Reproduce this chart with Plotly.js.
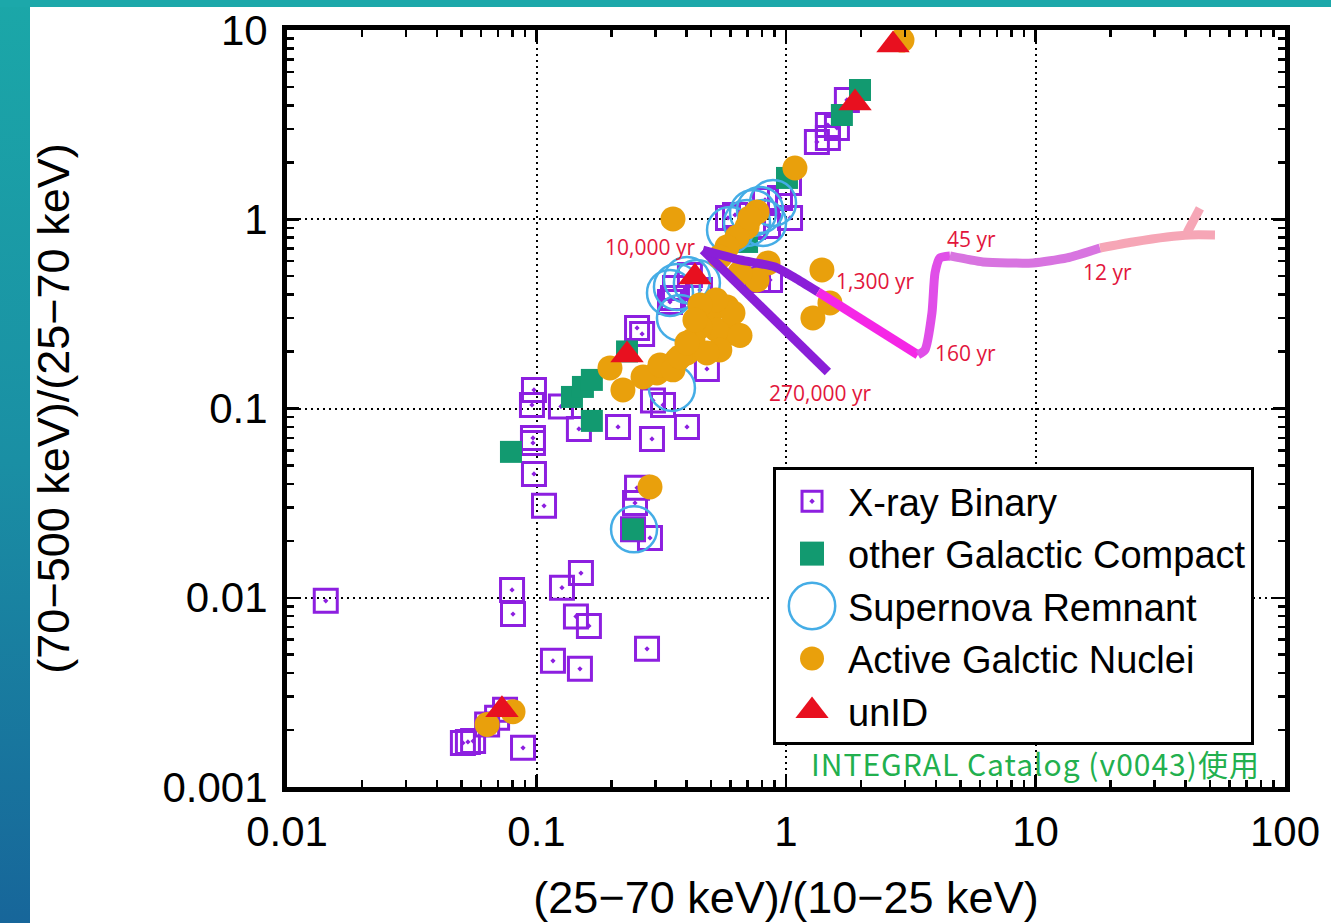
<!DOCTYPE html>
<html><head><meta charset="utf-8">
<script src="https://cdn.plot.ly/plotly-3.0.1.min.js"></script>
<style>
html,body{margin:0;padding:0;background:#fff;}
#wrap{position:relative;width:1331px;height:923px;overflow:hidden;background:#fff;}
#stripL{position:absolute;left:0;top:0;width:30px;height:923px;background:linear-gradient(180deg,#1ba7a8 0%,#1a8fa4 50%,#17669a 100%);}
#stripT{position:absolute;left:0;top:0;width:1331px;height:7px;background:#1ca8aa;}
#chart{position:absolute;left:0;top:0;width:1331px;height:923px;}
</style></head><body>
<div id="wrap"><div id="stripL"></div><div id="stripT"></div><div id="chart"></div></div>
<script>
// ---------- data ----------
const xTickVals = [0.01, 0.1, 1, 10, 100];
const xTickText = ['0.01', '0.1', '1', '10', '100'];
const yTickVals = [0.001, 0.01, 0.1, 1, 10];
const yTickText = ['0.001', '0.01', '0.1', '1', '10'];

const seriesNames = ['X-ray Binary', 'other Galactic Compact', 'Supernova Remnant', 'Active Galctic Nuclei', 'unID'];

const xrbX = [0.0143, 0.0507, 0.0531, 0.0557, 0.0634, 0.0695, 0.0748, 0.0883, 0.0798, 0.0805, 0.1265, 0.1507, 0.1439, 0.1622, 0.1164, 0.1493, 0.2773, 0.0977, 0.0959, 0.1253, 0.1479, 0.0968, 0.0968, 0.0977, 0.1072, 0.2122, 0.2903, 0.401, 0.293, 0.3214, 0.2529, 0.2482, 0.285, 0.2437, 0.2529, 0.265, 0.3524, 0.482, 0.3428, 0.359, 0.412, 0.7724, 0.5855, 0.6246, 0.847, 1.038, 0.824, 0.946, 1.028, 1.33, 1.472, 1.6, 1.472, 1.754, 0.7376, 0.452, 0.863];
const xrbY = [0.00963, 0.00171, 0.00173, 0.00175, 0.00214, 0.00232, 0.00256, 0.00161, 0.011, 0.0082, 0.0113, 0.0135, 0.00797, 0.0071, 0.00464, 0.00421, 0.00537, 0.1254, 0.1045, 0.1026, 0.078, 0.0699, 0.0658, 0.0451, 0.0306, 0.0799, 0.0691, 0.0799, 0.1103, 0.1045, 0.0381, 0.0317, 0.0207, 0.023, 0.2666, 0.2477, 0.384, 0.1619, 0.3657, 0.4335, 0.508, 0.4778, 1.016, 1.054, 0.922, 1.016, 1.265, 1.296, 1.555, 2.561, 2.689, 3.036, 3.148, 4.27, 0.911, 0.423, 0.4778];

const gcX = [0.079, 0.1387, 0.1535, 0.1667, 0.1667, 0.2306, 0.2437, 0.698, 1.009, 1.675, 1.98];
const gcY = [0.059, 0.1151, 0.13, 0.1416, 0.086, 0.2002, 0.023, 0.7586, 1.653, 3.556, 4.82];

const snrX = [0.246, 0.349, 0.3428, 0.401, 0.3656, 0.4395, 0.3758, 0.698, 0.7868, 0.887, 0.5966, 0.7376, 0.809];
const snrY = [0.023, 0.1284, 0.408, 0.4778, 0.4388, 0.4607, 0.301, 0.956, 1.12, 1.219, 0.878, 1.08, 0.956];

const agnX = [2.917, 1.086, 0.3524, 1.393, 1.282, 1.5, 0.847, 0.7653, 0.654, 0.7653, 0.698, 0.6362, 0.58, 0.543, 0.58, 0.4955, 0.613, 0.528, 0.4519, 0.4236, 0.401, 0.3656, 0.3334, 0.304, 0.2673, 0.543, 0.482, 0.613, 0.197, 0.222, 0.3126, 0.3524, 0.3758, 0.401, 0.285, 0.0634, 0.0805, 0.717, 0.524, 0.452, 0.4315, 0.654];
const agnY = [8.85, 1.866, 1.004, 0.54, 0.301, 0.3613, 0.588, 0.4778, 0.5202, 1.093, 0.911, 0.806, 0.714, 0.632, 0.344, 0.3199, 0.2508, 0.2602, 0.27, 0.2304, 0.1967, 0.1806, 0.1659, 0.1542, 0.1468, 0.204, 0.1967, 0.3199, 0.1639, 0.1254, 0.17, 0.16, 0.1874, 0.222, 0.0385, 0.00214, 0.0025, 1.016, 0.3748, 0.3527, 0.2938, 0.243];

const unidX = [2.685, 1.891, 0.4315, 0.2306, 0.0727];
const unidY = [8.33, 4.115, 0.4956, 0.192, 0.00256];

// evolution tracks (age segments)
const trackOldX = [0.4645, 1.472];            // 10,000 yr -> 270,000 yr
const trackOldY = [0.688, 0.156];
const trackMidX = [0.4645, 0.654, 0.904, 1.086, 1.343];   // 10,000 yr -> 1,300 yr
const trackMidY = [0.688, 0.6095, 0.56, 0.49, 0.413];
const track1300X = [1.343, 3.38];             // 1,300 yr -> 160 yr
const track1300Y = [0.413, 0.192];
const track160X = [3.38, 3.606, 3.846, 3.956, 4.14, 4.54]; // 160 yr -> 45 yr
const track160Y = [0.192, 0.204, 0.3199, 0.5202, 0.6246, 0.640];
const track45X = [4.54, 6.16, 9.77, 13.37, 18.14];         // 45 yr -> 12 yr
const track45Y = [0.640, 0.595, 0.588, 0.6246, 0.705];
const track12X = [18.14, 24.6, 33.65, 41.6, 52.4];         // 12 yr -> start
const track12Y = [0.705, 0.7586, 0.806, 0.826, 0.826];
const hookX = [40.5, 45.6];
const hookY = [0.85, 1.14];

const ageLabels = ['10,000 yr', '1,300 yr', '270,000 yr', '160 yr', '45 yr', '12 yr'];
const ageX = [0.285, 2.275, 1.368, 5.265, 5.56, 19.35];
const ageY = [0.714, 0.472, 0.1209, 0.1967, 0.787, 0.5266];

// ---------- chart ----------
const FONT = 'Liberation Sans, Arial, Helvetica, sans-serif';
function minorTicks(d0, d1) { const v = []; for (let d = d0; d < d1; d++) for (let k = 2; k < 10; k++) v.push(k * Math.pow(10, d)); return v; }

function lineTrace(x, y, color, shape) {
  return {x: x, y: y, type: 'scatter', mode: 'lines', showlegend: false, hoverinfo: 'skip',
    line: {color: color, width: 9, shape: shape || 'linear', smoothing: 0.6}};
}

const traces = [
  {x: xrbX, y: xrbY, name: seriesNames[0], legendgroup: 'a', type: 'scatter', mode: 'markers',
   marker: {symbol: 'square-open-dot', size: 23, color: '#8d1fe0', line: {width: 3, color: '#8d1fe0'}}},
  {x: gcX, y: gcY, name: seriesNames[1], legendgroup: 'b', type: 'scatter', mode: 'markers',
   marker: {symbol: 'square', size: 22, color: '#129a70'}},
  {x: snrX, y: snrY, name: seriesNames[2], legendgroup: 'c', type: 'scatter', mode: 'markers',
   marker: {symbol: 'circle-open', size: 46, color: '#45ade6', line: {width: 2.5, color: '#45ade6'}}},
  {x: agnX, y: agnY, name: seriesNames[3], legendgroup: 'd', type: 'scatter', mode: 'markers',
   marker: {symbol: 'circle', size: 25, color: '#e9a00c'}},
  lineTrace(trackOldX, trackOldY, '#8a1fd8'),
  lineTrace(trackMidX, trackMidY, '#8a1fd8', 'spline'),
  lineTrace(track1300X, track1300Y, '#f526e6'),
  lineTrace(track160X, track160Y, '#e04ee8', 'spline'),
  lineTrace(track45X, track45Y, '#d874e0', 'spline'),
  lineTrace(track12X, track12Y, '#f6a6b6', 'spline'),
  lineTrace(hookX, hookY, '#f6a6b6'),
  {x: unidX, y: unidY, name: seriesNames[4], legendgroup: 'e', type: 'scatter', mode: 'markers',
   marker: {symbol: 'triangle-up', size: 29, color: '#e8101f'}}
];

const annotations = ageLabels.map((t, i) => ({
  x: Math.log10(ageX[i]), y: Math.log10(ageY[i]), xref: 'x', yref: 'y', text: t, showarrow: false,
  xanchor: 'center', yanchor: 'middle', font: {family: 'Open Sans, Noto Sans, sans-serif', size: 21, color: '#e2163c'}
}));
annotations.push({
  x: 0.7495, y: 0.0317, xref: 'paper', yref: 'paper',
  text: '<span style="letter-spacing:1px">INTEGRAL Catalog (v0043)使用</span>', showarrow: false,
  xanchor: 'center', yanchor: 'middle', font: {family: 'Noto Sans CJK JP, sans-serif', size: 30, color: '#22b04e'}
});

function axis(range, vals, text, minor, title, standoff, labelOff) {
  return {
    type: 'log', range: range, tickmode: 'array', tickvals: vals, ticktext: text,
    ticks: 'inside', ticklen: 12, tickwidth: 2.5, tickcolor: '#000',
    showline: true, linewidth: 5, linecolor: '#000', mirror: 'ticks',
    showgrid: true, gridcolor: '#000', gridwidth: 2, griddash: '2px,4px', zeroline: false,
    tickfont: {family: FONT, size: 42, color: '#000'}, ticklabelstandoff: labelOff,
    minor: {tickmode: 'array', tickvals: minor, ticks: 'inside', ticklen: 7, tickwidth: 2.5, tickcolor: '#000', showgrid: false},
    title: {text: title, font: {family: FONT, size: 45, color: '#000'}, standoff: standoff},
    automargin: false, fixedrange: true
  };
}

const layout = {
  width: 1331, height: 923,
  margin: {l: 287, r: 46, t: 30, b: 136, pad: 0},
  paper_bgcolor: 'rgba(0,0,0,0)', plot_bgcolor: '#fff',
  xaxis: axis([-2, 2], xTickVals, xTickText, minorTicks(-2, 2), '(25−70 keV)/(10−25 keV)', 30, 4),
  yaxis: axis([-3, 1], yTickVals, yTickText, minorTicks(-3, 1), '(70−500 keV)/(25−70 keV)', 80, 6),
  showlegend: true,
  legend: {x: 0.487, y: 0.4227, xanchor: 'left', yanchor: 'top', bgcolor: '#fff', bordercolor: '#000', borderwidth: 3,
    font: {family: FONT, size: 38, color: '#000'}, traceorder: 'grouped', tracegroupgap: 0, itemwidth: 62},
  annotations: annotations
};

Plotly.newPlot('chart', traces, layout, {staticPlot: true, displayModeBar: false}).then(gd => {
  const scales = {'X-ray Binary': 1.25, 'other Galactic Compact': 1.5, 'Supernova Remnant': 2.9, 'Active Galctic Nuclei': 1.5, 'unID': 1.8};
  gd.querySelectorAll('.legend .traces').forEach(t => {
    const txt = t.querySelector('.legendtext');
    const p = t.querySelector('path.scatterpts');
    if (!txt || !p) return;
    const s = scales[txt.textContent];
    if (!s) return;
    p.setAttribute('transform', (p.getAttribute('transform') || '') + ' scale(' + s + ')');
    p.style.vectorEffect = 'non-scaling-stroke';
  });
});
</script>
</body></html>
